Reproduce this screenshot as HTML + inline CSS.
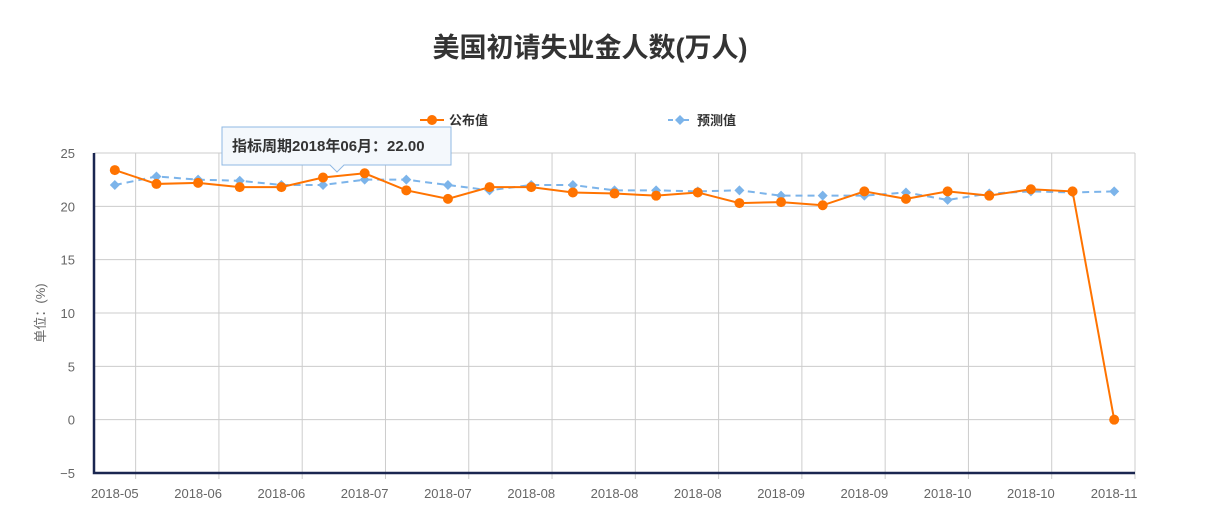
<!DOCTYPE html>
<html><head><meta charset="utf-8"><style>
body{margin:0;background:#fff;}
svg text{font-family:"Liberation Sans","Noto Sans CJK SC",sans-serif;}
</style></head><body>
<svg id="c" width="1210" height="508" xmlns="http://www.w3.org/2000/svg">
<text x="590" y="57" text-anchor="middle" font-size="27" font-weight="bold" fill="#333">美国初请失业金人数(万人)</text>
<g><line x1="420" y1="120" x2="444" y2="120" stroke="#ff7300" stroke-width="2"/><circle cx="432" cy="120" r="5" fill="#ff7300"/><text x="449" y="125" font-size="13" font-weight="bold" fill="#333">公布值</text></g>
<g><line x1="668" y1="120" x2="692" y2="120" stroke="#7cb4ea" stroke-width="2" stroke-dasharray="5,3"/><path d="M680 115L685 120L680 125L675 120Z" fill="#7cb4ea"/><text x="697" y="125" font-size="13" font-weight="bold" fill="#333">预测值</text></g>
<g id="grid"></g><g id="axes"></g><g id="series"></g>
<text transform="translate(45,313) rotate(-90)" text-anchor="middle" font-size="13" fill="#666">单位：(%)</text>
<g>
<path d="M222 127H451V165H344L337 172L330 165H222Z" fill="#f4f8fc" stroke="#8fb8e3" stroke-width="1"/>
<text x="232" y="151" font-size="15" font-weight="bold" fill="#333">指标周期2018年06月：22.00</text></g>
</svg>
<script>
const published=[23.4,22.1,22.2,21.8,21.8,22.7,23.1,21.5,20.7,21.8,21.8,21.3,21.2,21.0,21.3,20.3,20.4,20.1,21.4,20.7,21.4,21.0,21.6,21.4,0];
const forecast=[22.0,22.8,22.5,22.4,22.0,22.0,22.5,22.5,22.0,21.5,22.0,22.0,21.5,21.5,21.4,21.5,21.0,21.0,21.0,21.3,20.6,21.2,21.4,21.3,21.4];
const xLabels=["2018-05","2018-06","2018-06","2018-07","2018-07","2018-08","2018-08","2018-08","2018-09","2018-09","2018-10","2018-10","2018-11"];
const yTicks=[-5,0,5,10,15,20,25];
const L=94,R=1135,T=153,B=473,n=published.length,step=(R-L)/n;
const xs=i=>L+step*(i+0.5);
const ys=v=>B-(v+5)*(B-T)/30;
const NS="http://www.w3.org/2000/svg";
function mk(p,tag,a){const e=document.createElementNS(NS,tag);for(const k in a)e.setAttribute(k,a[k]);document.getElementById(p).appendChild(e);return e;}
yTicks.forEach(v=>{const l=mk('grid','line',{x1:L,x2:R,y1:ys(v),y2:ys(v),stroke:'#ccc'});


const t=mk('grid','text',{x:L-19,y:ys(v)+5,'text-anchor':'end','font-size':13,fill:'#666'});t.textContent=v<0?'−'+(-v):v;

});
for(let k=1;k<=n;k+=2){const x=L+step*k;const g=mk('grid','line',{x1:x,x2:x,y1:T,y2:B+6,stroke:'#ccc'});

}
xLabels.forEach((s,j)=>{const t=mk('grid','text',{x:xs(j*2),y:498,'text-anchor':'middle','font-size':13,fill:'#666'});t.textContent=s;

});
const ax=mk('axes','path',{d:`M${L} ${T}V${B}H${R}`,fill:'none',stroke:'#1a2650','stroke-width':2.5});


const fl=mk('series','polyline',{points:forecast.map((v,i)=>xs(i)+','+ys(v)).join(' '),fill:'none',stroke:'#7cb4ea','stroke-width':2,'stroke-dasharray':'7,5'});


forecast.forEach((v,i)=>{const x=xs(i),y=ys(v);const p=mk('series','path',{d:`M${x} ${y-5}L${x+5} ${y}L${x} ${y+5}L${x-5} ${y}Z`,fill:'#7cb4ea'});

});
const pl=mk('series','polyline',{points:published.map((v,i)=>xs(i)+','+ys(v)).join(' '),fill:'none',stroke:'#ff7300','stroke-width':2});


published.forEach((v,i)=>{const c=mk('series','circle',{cx:xs(i),cy:ys(v),r:5,fill:'#ff7300'});

});
</script>
</body></html>
